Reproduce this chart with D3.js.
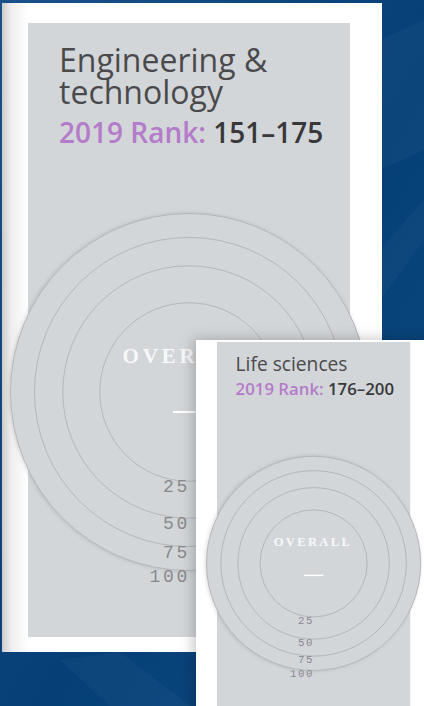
<!DOCTYPE html>
<html>
<head>
<meta charset="utf-8">
<title></title>
<style>
  html, body { margin: 0; padding: 0; background: #0c4278; overflow: hidden; }
  svg { display: block; }
</style>
</head>
<body>
<script src="https://cdnjs.cloudflare.com/ajax/libs/d3/7.8.5/d3.min.js"></script>
<script>

// chart values
var subjects = [["Engineering &", "technology"], ["Life sciences"]];
var rankYear = "2019";
var ranks = ["151–175", "176–200"];
var ringValues = [25, 50, 75, 100];
var centreLabel = "OVERALL";

var config = {
    width: 424,
    height: 706,
    panelColor: "#d3d6d9",
    ringColor: "#b4b6b9",
    tickColor: "#88898c",
    titleColor: "#4a4a4c",
    rankColor: "#b47bca",
    numberColor: "#38383a"
};

// where each card sits (panel top-left, scale, white card box)
var layout = [
    { x: 28, y: 23, s: 1, card: { x: 2, y: 3, w: 380, h: 649 } },
    { x: 217, y: 342, s: 0.6, card: { x: 196, y: 340, w: 240, h: 400 } }
];

var svg = d3.select("body").append("svg")
    .attr("width", config.width)
    .attr("height", config.height);

var defs = svg.append("defs");

var bg = defs.append("linearGradient").attr("id", "bg")
    .attr("x1", 0).attr("y1", 0).attr("x2", 1).attr("y2", 1);
bg.append("stop").attr("offset", "0%").attr("stop-color", "#1a5089");
bg.append("stop").attr("offset", "55%").attr("stop-color", "#053f76");
bg.append("stop").attr("offset", "100%").attr("stop-color", "#0f4a82");

var edge = defs.append("linearGradient").attr("id", "edge")
    .attr("x1", 0).attr("y1", 0).attr("x2", 1).attr("y2", 0);
edge.append("stop").attr("offset", "0%").attr("stop-color", "#000").attr("stop-opacity", 0.2);
edge.append("stop").attr("offset", "35%").attr("stop-color", "#000").attr("stop-opacity", 0.07);
edge.append("stop").attr("offset", "100%").attr("stop-color", "#000").attr("stop-opacity", 0);

defs.append("filter").attr("id", "cardShadow")
    .attr("x", "-20%").attr("y", "-20%").attr("width", "140%").attr("height", "140%")
    .append("feDropShadow")
    .attr("dx", -3).attr("dy", -1).attr("stdDeviation", 7)
    .attr("flood-color", "#000").attr("flood-opacity", 0.22);

defs.append("filter").attr("id", "discShadow")
    .attr("x", "-10%").attr("y", "-10%").attr("width", "120%").attr("height", "120%")
    .append("feDropShadow")
    .attr("dx", -1).attr("dy", 0).attr("stdDeviation", 2)
    .attr("flood-color", "#000").attr("flood-opacity", 0.16);

// background
svg.append("rect")
    .attr("width", config.width).attr("height", config.height)
    .attr("fill", "url(#bg)");

var streaks = [
    [[380, 40], [424, 20], [424, 150], [380, 170]],
    [[380, 250], [424, 200], [424, 240], [380, 300]],
    [[60, 660], [120, 652], [190, 706], [110, 706]]
];
svg.selectAll("polygon.streak").data(streaks).join("polygon")
    .attr("class", "streak")
    .attr("points", function (d) { return d.join(" "); })
    .attr("fill", "#ffffff")
    .attr("opacity", 0.03);

layout.forEach(function (lay, i) { drawCard(lay, i); });

function drawCard(lay, i) {
    var s = lay.s;
    var g = svg.append("g");

    g.append("rect")
        .attr("x", lay.card.x).attr("y", lay.card.y)
        .attr("width", lay.card.w).attr("height", lay.card.h)
        .attr("fill", "#ffffff")
        .attr("filter", i > 0 ? "url(#cardShadow)" : null);

    if (i === 0) {
        g.append("rect")
            .attr("x", lay.card.x).attr("y", lay.card.y)
            .attr("width", 26).attr("height", lay.card.h)
            .attr("fill", "url(#edge)");
    }

    var pw = 322 * s, ph = 614 * s;
    g.append("rect")
        .attr("x", lay.x).attr("y", lay.y)
        .attr("width", pw).attr("height", ph)
        .attr("fill", config.panelColor);

    var cx = lay.x + pw / 2,
        cy = lay.y + 369 * s;

    var r = d3.scaleSqrt().domain([0, 100]).range([0, 178.5 * s]);

    g.append("circle")
        .attr("cx", cx).attr("cy", cy)
        .attr("r", r(d3.max(ringValues)))
        .attr("fill", config.panelColor)
        .attr("filter", "url(#discShadow)");

    g.selectAll("circle.ring").data(ringValues).join("circle")
        .attr("class", "ring")
        .attr("cx", cx).attr("cy", cy)
        .attr("r", function (d) { return r(d); })
        .attr("fill", "none")
        .attr("stroke", config.ringColor)
        .attr("stroke-width", 1);

    g.selectAll("text.tick").data(ringValues).join("text")
        .attr("class", "tick")
        .attr("x", cx + 1 * s)
        .attr("y", function (d) { return cy + r(d) + 11 * s; })
        .attr("text-anchor", "end")
        .style("font-family", "'Liberation Mono', monospace")
        .style("font-size", (18 * s) + "px")
        .style("letter-spacing", (2.7 * s) + "px")
        .attr("fill", config.tickColor)
        .text(function (d) { return d; });

    g.append("text")
        .attr("x", cx - 66.5 * s)
        .attr("y", cy - 29 * s)
        .attr("textLength", 127 * s)
        .attr("lengthAdjust", "spacing")
        .style("font-family", "'Liberation Serif', serif")
        .style("font-size", (21 * s) + "px")
        .style("font-weight", 700)
        .attr("fill", "#f7f8f9")
        .text(centreLabel);

    g.append("line")
        .attr("x1", cx - 16 * s).attr("x2", cx + 16 * s)
        .attr("y1", cy + 20 * s).attr("y2", cy + 20 * s)
        .attr("stroke", "#ffffff")
        .attr("stroke-width", Math.max(1.4, 2 * s));

    var lines = subjects[i];
    g.selectAll("text.title").data(lines).join("text")
        .attr("class", "title")
        .attr("x", lay.x + 31 * s)
        .attr("y", function (d, j) { return lay.y + (49 + 32 * j) * s; })
        .style("font-family", "'Open Sans', sans-serif")
        .style("font-size", (32 * s) + "px")
        .attr("fill", config.titleColor)
        .text(function (d) { return d; });

    var rank = g.append("text")
        .attr("x", lay.x + 31 * s)
        .attr("y", lay.y + (49 + 32 * (lines.length - 1) + 39) * s)
        .style("font-family", "'Open Sans', sans-serif")
        .style("font-size", (28 * s) + "px")
        .style("font-weight", 600)
        .style("white-space", "pre");
    rank.append("tspan").attr("fill", config.rankColor).text(rankYear + " Rank: ");
    rank.append("tspan").attr("fill", config.numberColor).text(ranks[i]);
}
</script>
</body>
</html>
